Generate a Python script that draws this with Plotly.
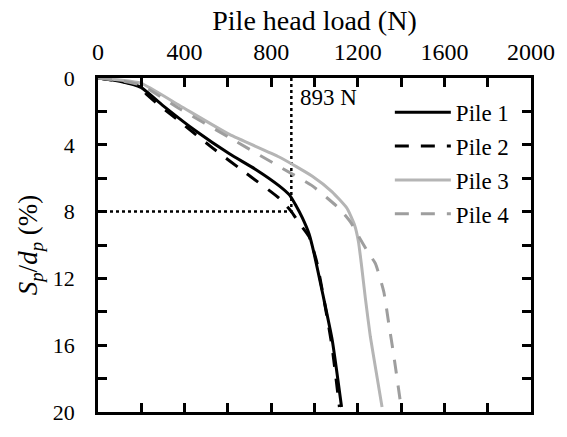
import plotly.graph_objects as go

# Pile head load (N) vs settlement ratio Sp/dp (%)
pile1_load = [0, 100, 198, 300, 454, 607, 730, 837, 886, 913, 944, 975, 998, 1036, 1082, 1125]
pile1_s    = [0, 0.2, 0.56, 1.65, 3.19, 4.54, 5.49, 6.46, 7.03, 7.61, 8.38, 9.34, 10.5, 12.8, 15.7, 19.7]

pile2_load = [0, 100, 200, 224, 377, 530, 684, 837, 893, 930, 975, 1010, 1040, 1080, 1115]
pile2_s    = [0, 0.2, 0.5, 0.98, 2.6, 4.2, 5.7, 7.2, 8.0, 8.7, 9.5, 11.0, 13.0, 16.0, 19.7]

pile3_load = [0, 100, 198, 377, 607, 837, 990, 1080, 1150, 1185, 1203, 1217, 1235, 1258, 1285, 1312]
pile3_s    = [0, 0.12, 0.31, 1.65, 3.38, 4.73, 5.88, 6.8, 7.8, 8.8, 9.8, 11.2, 13.2, 15.5, 17.6, 19.7]

pile4_load = [0, 100, 198, 377, 607, 837, 990, 1060, 1113, 1165, 1205, 1250, 1281, 1320, 1343, 1366, 1400]
pile4_s    = [0, 0.15, 0.42, 1.84, 3.57, 5.3, 6.46, 7.2, 7.8, 8.6, 9.5, 10.5, 11.1, 12.8, 14.7, 16.6, 19.7]

ref_load = 893
ref_s = 8

FONT = "Liberation Serif, Times New Roman, serif"

fig = go.Figure()

# reference dotted lines
fig.add_trace(go.Scatter(x=[ref_load, ref_load], y=[0, ref_s], mode="lines",
                         line=dict(color="black", width=2.5, dash="dot"), showlegend=False))
fig.add_trace(go.Scatter(x=[0, ref_load], y=[ref_s, ref_s], mode="lines",
                         line=dict(color="black", width=2.5, dash="dot"), showlegend=False))

series = [
    ("Pile 1", pile1_load, pile1_s, "black", "solid"),
    ("Pile 2", pile2_load, pile2_s, "black", "14px,12px"),
    ("Pile 3", pile3_load, pile3_s, "#b5b5b5", "solid"),
    ("Pile 4", pile4_load, pile4_s, "#9e9e9e", "14px,12px"),
]
for i, (name, x, y, c, d) in enumerate(series):
    fig.add_trace(go.Scatter(x=x, y=y, mode="lines", name=name, legendgroup=name,
                             line=dict(color=c, width=3, dash=d, shape="spline", smoothing=0.5)))

fig.add_annotation(x=925, y=1.15, text="893 N", showarrow=False, xanchor="left",
                   font=dict(family=FONT, size=23, color="black"))

fig.update_layout(
    width=567, height=437,
    margin=dict(l=98, r=34, t=78, b=12),
    paper_bgcolor="white", plot_bgcolor="white",
    font=dict(family=FONT, size=23, color="black"),
    showlegend=True,
    legend=dict(x=0.674, y=0.962, xanchor="left", yanchor="top",
                bgcolor="rgba(0,0,0,0)", font=dict(family=FONT, size=23),
                tracegroupgap=1, itemwidth=56),
    xaxis=dict(
        side="top", range=[0, 2000], tick0=0, dtick=400,
        title=dict(text="Pile head load (N)", font=dict(family=FONT, size=28), standoff=0),
        showline=True, linecolor="black", linewidth=2.5, mirror="allticks",
        ticks="inside", ticklen=9, tickwidth=2.5, tickcolor="black",
        minor=dict(dtick=200, ticks="inside", ticklen=9, tickwidth=2.5, tickcolor="black"),
        showgrid=False, zeroline=False, ticklabelstandoff=6,
        tickfont=dict(family=FONT, size=24),
    ),
    yaxis=dict(
        range=[20, 0], tick0=0, dtick=4,
        title=dict(text="<i>S<sub>p</sub></i>/<i>d<sub>p</sub></i> (%)", font=dict(family=FONT, size=27), standoff=8),
        showline=True, linecolor="black", linewidth=2.5, mirror="allticks",
        ticks="inside", ticklen=9, tickwidth=2.5, tickcolor="black",
        minor=dict(dtick=2, ticks="inside", ticklen=9, tickwidth=2.5, tickcolor="black"),
        showgrid=False, zeroline=False, ticklabelstandoff=16,
        tickfont=dict(family=FONT, size=22),
    ),
)

fig.write_html("out.html")
